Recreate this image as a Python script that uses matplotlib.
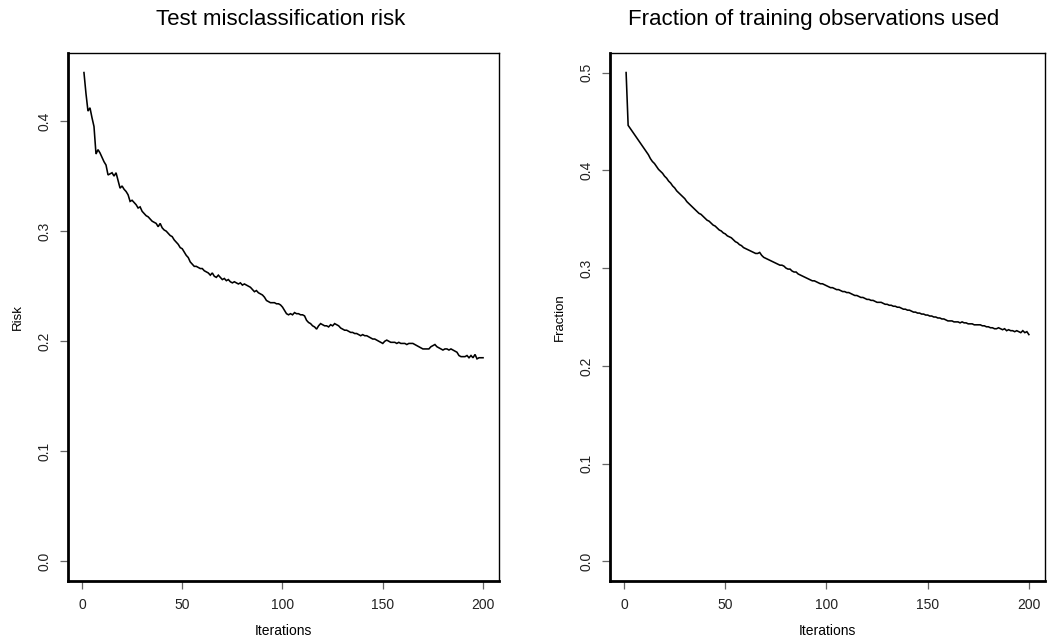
import matplotlib
matplotlib.use("Agg")
import matplotlib.pyplot as plt
import numpy as np

iterations = list(range(1, 201))

risk = [
    0.444, 0.425, 0.409, 0.412, 0.403, 0.395, 0.370, 0.374, 0.371, 0.367,
    0.363, 0.360, 0.351, 0.352, 0.353, 0.350, 0.353, 0.346, 0.339, 0.341,
    0.338, 0.336, 0.333, 0.327, 0.328, 0.326, 0.324, 0.321, 0.322, 0.318,
    0.316, 0.314, 0.313, 0.311, 0.309, 0.308, 0.307, 0.304, 0.307, 0.303,
    0.301, 0.300, 0.298, 0.296, 0.295, 0.292, 0.290, 0.288, 0.285, 0.284,
    0.281, 0.278, 0.276, 0.272, 0.270, 0.268, 0.268, 0.267, 0.266, 0.266,
    0.264, 0.263, 0.262, 0.260, 0.262, 0.259, 0.258, 0.260, 0.258, 0.256,
    0.257, 0.255, 0.256, 0.254, 0.253, 0.254, 0.253, 0.252, 0.253, 0.251,
    0.252, 0.251, 0.250, 0.249, 0.247, 0.245, 0.246, 0.244, 0.243, 0.242,
    0.240, 0.237, 0.236, 0.235, 0.235, 0.235, 0.234, 0.234, 0.233, 0.231,
    0.228, 0.225, 0.224, 0.225, 0.224, 0.226, 0.225, 0.225, 0.224, 0.224,
    0.223, 0.219, 0.217, 0.216, 0.214, 0.213, 0.211, 0.214, 0.216, 0.215,
    0.214, 0.214, 0.213, 0.215, 0.214, 0.216, 0.215, 0.214, 0.212, 0.211,
    0.210, 0.210, 0.209, 0.208, 0.208, 0.207, 0.207, 0.206, 0.205, 0.206,
    0.205, 0.205, 0.204, 0.203, 0.202, 0.202, 0.201, 0.200, 0.199, 0.198,
    0.200, 0.201, 0.200, 0.199, 0.199, 0.199, 0.198, 0.199, 0.198, 0.198,
    0.198, 0.197, 0.198, 0.198, 0.198, 0.197, 0.196, 0.195, 0.194, 0.193,
    0.193, 0.193, 0.193, 0.195, 0.196, 0.197, 0.195, 0.194, 0.193, 0.192,
    0.193, 0.193, 0.192, 0.193, 0.192, 0.191, 0.190, 0.187, 0.186, 0.186,
    0.186, 0.187, 0.185, 0.187, 0.185, 0.188, 0.184, 0.185, 0.185, 0.185,
]

fraction = [
    0.500, 0.446, 0.443, 0.440, 0.437, 0.434, 0.431, 0.428, 0.425, 0.422,
    0.419, 0.416, 0.412, 0.409, 0.407, 0.404, 0.401, 0.399, 0.397, 0.394,
    0.392, 0.389, 0.387, 0.384, 0.382, 0.379, 0.377, 0.375, 0.373, 0.371,
    0.368, 0.366, 0.364, 0.362, 0.360, 0.358, 0.356, 0.355, 0.353, 0.351,
    0.349, 0.348, 0.346, 0.344, 0.343, 0.341, 0.339, 0.338, 0.336, 0.335,
    0.333, 0.332, 0.331, 0.329, 0.327, 0.326, 0.324, 0.323, 0.321, 0.320,
    0.319, 0.318, 0.317, 0.316, 0.315, 0.315, 0.316, 0.313, 0.311, 0.310,
    0.309, 0.308, 0.307, 0.306, 0.305, 0.304, 0.303, 0.303, 0.302, 0.300,
    0.299, 0.299, 0.297, 0.296, 0.296, 0.294, 0.293, 0.292, 0.291, 0.290,
    0.289, 0.288, 0.287, 0.287, 0.286, 0.285, 0.284, 0.284, 0.283, 0.282,
    0.281, 0.280, 0.280, 0.279, 0.278, 0.278, 0.277, 0.276, 0.276, 0.275,
    0.275, 0.274, 0.273, 0.272, 0.272, 0.271, 0.270, 0.270, 0.269, 0.268,
    0.268, 0.267, 0.267, 0.266, 0.265, 0.265, 0.265, 0.264, 0.263, 0.263,
    0.262, 0.262, 0.261, 0.261, 0.260, 0.260, 0.259, 0.258, 0.258, 0.257,
    0.257, 0.256, 0.255, 0.255, 0.254, 0.254, 0.253, 0.253, 0.252, 0.252,
    0.251, 0.251, 0.250, 0.250, 0.249, 0.249, 0.248, 0.248, 0.247, 0.246,
    0.246, 0.246, 0.245, 0.245, 0.245, 0.244, 0.245, 0.244, 0.244, 0.243,
    0.243, 0.243, 0.242, 0.242, 0.242, 0.242, 0.241, 0.241, 0.240, 0.240,
    0.239, 0.239, 0.238, 0.238, 0.239, 0.238, 0.237, 0.238, 0.236, 0.237,
    0.236, 0.236, 0.235, 0.236, 0.235, 0.234, 0.236, 0.234, 0.235, 0.232,
]

x_ticks = [0, 50, 100, 150, 200]
risk_ticks = [0.0, 0.1, 0.2, 0.3, 0.4]
fraction_ticks = [0.0, 0.1, 0.2, 0.3, 0.4, 0.5]

plt.rcParams["font.family"] = ["Liberation Sans", "DejaVu Sans"]

W, H = 1048, 641
fig = plt.figure(figsize=(W / 100, H / 100), dpi=100)


def r_range(lo, hi):
    pad = 0.04 * (hi - lo)
    return lo - pad, hi + pad


def panel(rect, y, yticks, ylim_data, title, title_x, ylabel):
    x0, x1, y0, y1 = rect
    ax = fig.add_axes([x0 / W, 1 - y1 / H, (x1 - x0) / W, (y1 - y0) / H])
    ax.plot(iterations, y, color="black", lw=1.15, solid_joinstyle="miter")
    ax.set_xlim(*r_range(min(iterations), max(iterations)))
    ax.set_ylim(*r_range(*ylim_data))
    ax.set_xticks(x_ticks)
    ax.set_xticklabels([str(t) for t in x_ticks])
    ax.set_yticks(yticks)
    ax.set_yticklabels([f"{t:.1f}" for t in yticks], rotation=90, va="center")
    ax.tick_params(axis="both", length=6, width=0.9, color="#666666",
                   labelsize=10, pad=6, labelcolor="#222222")
    for side in ("top", "right"):
        ax.spines[side].set_linewidth(1.0)
    for side in ("left", "bottom"):
        ax.spines[side].set_linewidth(2.0)
    t = ax.set_title(title, fontsize=16, pad=20)
    t.set_x((title_x - x0) / (x1 - x0))
    ax.set_xlabel("Iterations", fontsize=10, labelpad=9)
    ax.set_ylabel(ylabel, fontsize=9.5, labelpad=10)
    return ax


panel((68, 499, 53, 581), risk, risk_ticks, (0.0, max(risk)),
      "Test misclassification risk", 281, "Risk")
panel((610, 1045, 53, 581), fraction, fraction_ticks, (0.0, 0.5),
      "Fraction of training observations used", 814, "Fraction")

fig.savefig("out.png", dpi=100)
